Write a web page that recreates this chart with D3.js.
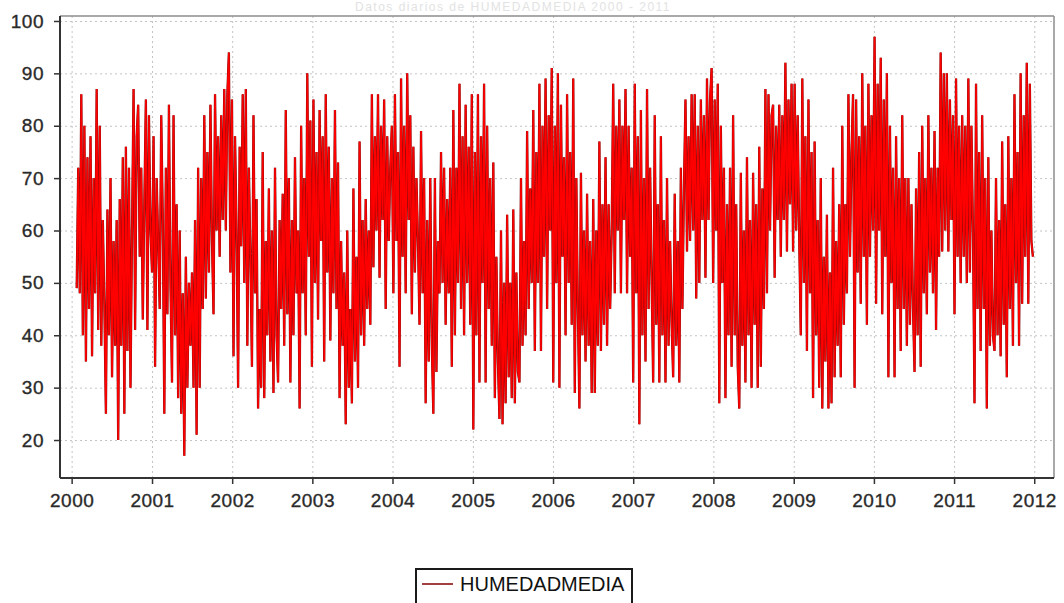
<!DOCTYPE html>
<html>
<head>
<meta charset="utf-8">
<script src="https://cdn.jsdelivr.net/npm/d3@7"></script>
<style>
  body { margin: 0; background: #fff; }
  svg { display: block; }
</style>
</head>
<body>
<svg id="chart" width="1064" height="603"></svg>
<script>
// Weekly mean relative humidity (%), series HUMEDADMEDIA
const seriesName = "HUMEDADMEDIA";
const chartTitle = "Datos diarios de HUMEDADMEDIA 2000 - 2011";
const firstWeek = "2000-01-24";

const hum2000 = [49, 72,48,86,40, 80,35,74,45,78, 36,70,48,87, 41,80,38,62,46, 25,64,40,70, 32,58,38,62, 20,66,38,74,25, 76,37,72,30, 60,87,41,78, 84,55,72,43,65, 85,41,82,60];
const hum2001 = [52,78,34,70, 58,45,82,62, 25,72,44,84,50, 31,82,40,65, 28,60,25,48, 17,55,30,50,38, 52,30,62,21, 72,30,70,45, 82,47,75,52,84, 58,44,86,60, 78,55,82,62, 87,60,86,94,52];
const hum2002 = [85,36,78,60, 30,76,57,86, 50,87,38,72,55, 34,82,48,66, 26,45,30,75, 28,58,40,68,35, 60,29,72,40, 31,62,45,67, 38,83,44,70,31, 62,40,74,48, 60,26,80,48, 70,40,90,55,81];
const hum2003 = [34,85,50,75, 43,83,58,78, 35,86,52,76,39, 70,48,83,45, 73,28,58,38, 52,23,60,30,45, 27,68,35,55, 30,77,40,62, 38,66,45,60,42, 86,53,78,60, 86,51,80,62, 85,45,78,58,72];
const hum2004 = [80,48,86,58,75, 34,89,55,80, 48,90,62,82, 44,76,52,70,58, 42,79,48,70, 27,62,35,70, 38,25,70,33,58, 48,75,50,72, 42,66,48,72, 34,83,40,72,50, 88,45,78,40, 84,50,76,42,86];
const hum2005 = [22,75,40,86, 31,78,50,88, 31,80,45,70,38, 73,28,55,35, 24,60,23,50, 27,63,32,50,28, 64,27,52,33, 31,70,38,58, 40,79,45,68,50, 83,37,75,50, 88,37,80,55, 89,45,82,60,91];
const hum2006 = [31,80,50,90, 30,84,55,74, 40,86,50,75,42, 89,29,70,45, 26,71,40,60, 35,67,38,58,29, 66,29,60,38, 77,37,65,42, 74,38,65,45,60, 88,48,80,60, 85,48,80,62, 87,48,80,55,72];
const hum2007 = [31,88,48,78, 23,83,40,70, 35,87,45,72,50, 31,82,42,65, 31,78,40,62, 31,70,38,58,42, 32,67,38,58, 31,72,45,68, 85,56,78,58,86, 60,86,47,80, 50,85,62,82, 51,89,62,85,91];
const hum2008 = [50,85,60,88, 27,80,50,72, 28,65,40,72,34, 82,40,65,34, 26,71,38,60, 31,74,40,62,30, 71,42,65,30, 76,34,68,45, 87,48,86,60,82, 84,51,80,62, 84,55,82,62, 92,56,85,65,88];
const hum2009 = [56,88,60,82,58, 40,89,50,78, 37,85,48,75, 28,77,40,62,30, 70,26,55,35, 63,26,52,27, 72,32,58,38,65, 32,80,42,65, 48,86,55,75, 86,30,85,52,78, 46,90,55,80, 42,88,55,82,60];
const hum2010 = [97,46,88,60, 93,44,85,55, 90,32,80,50,72, 32,78,45,70, 37,82,45,70, 38,70,42,65,45, 33,68,40,75, 34,80,48,70, 44,82,52,72,48, 79,41,72,55, 94,56,90,60, 90,56,85,62,82];
const hum2011 = [44,89,55,80, 50,82,55,80, 50,89,52,80,60, 27,88,45,75, 37,82,45,70, 26,74,38,60,40, 37,70,40,62, 36,77,42,65, 32,78,45,70,38, 86,50,75,38, 90,46,82,55, 92,46,88,58,55];

const yTicks = [20, 30, 40, 50, 60, 70, 80, 90, 100];
const xTickYears = [2000, 2001, 2002, 2003, 2004, 2005, 2006, 2007, 2008, 2009, 2010, 2011, 2012];

// ---- build the series (one point per week) ----
const values = [].concat(hum2000, hum2001, hum2002, hum2003, hum2004, hum2005,
                         hum2006, hum2007, hum2008, hum2009, hum2010, hum2011);
const t0 = d3.utcParse("%Y-%m-%d")(firstWeek);
const data = values.map((v, i) => ({ date: d3.utcDay.offset(t0, 7 * i), value: v }));

// ---- layout ----
const plot = { left: 60, right: 1054, top: 16, bottom: 478 };
const svg = d3.select("#chart");

const x = d3.scaleUtc()
  .domain([Date.UTC(1999, 10, 9), Date.UTC(2012, 2, 31)])
  .range([plot.left, plot.right]);
const y = d3.scaleLinear()
  .domain([12.75, 100.95])
  .range([plot.bottom, plot.top]);

const yearDates = xTickYears.map(yr => new Date(Date.UTC(yr, 0, 1)));
const font = "'Liberation Sans', Arial, sans-serif";

// faint title in the strip above the plot
svg.append("text")
  .attr("x", 513).attr("y", 11)
  .attr("text-anchor", "middle")
  .attr("font-family", font).attr("font-size", 12)
  .attr("letter-spacing", 1.5)
  .attr("fill", "#e2e2e2")
  .text(chartTitle);

// plot background
svg.append("rect")
  .attr("x", plot.left).attr("y", plot.top)
  .attr("width", plot.right - plot.left).attr("height", plot.bottom - plot.top)
  .attr("fill", "#fff");

// gridlines
const grid = svg.append("g").attr("class", "grid");
grid.append("g")
  .attr("transform", `translate(0,${plot.bottom})`)
  .call(d3.axisBottom(x).tickValues(yearDates).tickSize(-(plot.bottom - plot.top)).tickFormat(""))
  .call(g => g.select(".domain").remove());
grid.append("g")
  .attr("transform", `translate(${plot.left},0)`)
  .call(d3.axisLeft(y).tickValues(yTicks).tickSize(-(plot.right - plot.left)).tickFormat(""))
  .call(g => g.select(".domain").remove());
grid.selectAll("line")
  .attr("stroke", "#c4c4c4").attr("stroke-width", 1).attr("stroke-dasharray", "2,3");

// the series
svg.append("clipPath").attr("id", "plotClip")
  .append("rect")
  .attr("x", plot.left).attr("y", plot.top)
  .attr("width", plot.right - plot.left).attr("height", plot.bottom - plot.top);

const line = d3.line().x(d => x(d.date)).y(d => y(d.value));
const lines = svg.append("g").attr("clip-path", "url(#plotClip)");
lines.append("path").datum(data)
  .attr("d", line).attr("fill", "none")
  .attr("stroke", "#7a0b0b").attr("stroke-width", 2.3).attr("stroke-linejoin", "miter");
lines.append("path").datum(data)
  .attr("d", line).attr("fill", "none")
  .attr("stroke", "#ff0000").attr("stroke-width", 1.6).attr("stroke-linejoin", "miter");

// plot outline: light on top/right, dark axis lines left/bottom
svg.append("line")
  .attr("x1", plot.left).attr("x2", plot.right).attr("y1", plot.top).attr("y2", plot.top)
  .attr("stroke", "#8c8c8c").attr("stroke-width", 1.5);
svg.append("line")
  .attr("x1", plot.right).attr("x2", plot.right).attr("y1", plot.top).attr("y2", plot.bottom)
  .attr("stroke", "#8c8c8c").attr("stroke-width", 1.5);

// axes
const xAxis = svg.append("g")
  .attr("transform", `translate(0,${plot.bottom})`)
  .call(d3.axisBottom(x).tickValues(yearDates).tickSize(6).tickPadding(10)
    .tickFormat(d3.utcFormat("%Y")));
const yAxis = svg.append("g")
  .attr("transform", `translate(${plot.left},0)`)
  .call(d3.axisLeft(y).tickValues(yTicks).tickSize(6).tickPadding(10));

[xAxis, yAxis].forEach(ax => {
  ax.select(".domain").attr("stroke", "#333").attr("stroke-width", 2);
  ax.selectAll(".tick line").attr("stroke", "#333").attr("stroke-width", 1.5);
  ax.selectAll(".tick text")
    .attr("font-family", font).attr("font-size", 19)
    .attr("letter-spacing", 0.5)
    .attr("fill", "#2a2a2a").attr("stroke", "#2a2a2a").attr("stroke-width", 0.35);
});
// axis domain paths would draw outer ticks; replace with plain lines
xAxis.select(".domain").attr("d", `M${plot.left},0H${plot.right}`);
yAxis.select(".domain").attr("d", `M0,${plot.top}V${plot.bottom}`);

// legend
const legend = svg.append("g");
legend.append("rect")
  .attr("x", 416).attr("y", 569).attr("width", 216).attr("height", 46)
  .attr("fill", "#fff").attr("stroke", "#1a1a1a").attr("stroke-width", 2);
legend.append("line")
  .attr("x1", 422).attr("x2", 453).attr("y1", 584).attr("y2", 584)
  .attr("stroke", "#8b1010").attr("stroke-width", 1.6);
legend.append("text")
  .attr("x", 460).attr("y", 591)
  .attr("font-family", font).attr("font-size", 20)
  .attr("fill", "#111")
  .text(seriesName);
</script>
</body>
</html>
